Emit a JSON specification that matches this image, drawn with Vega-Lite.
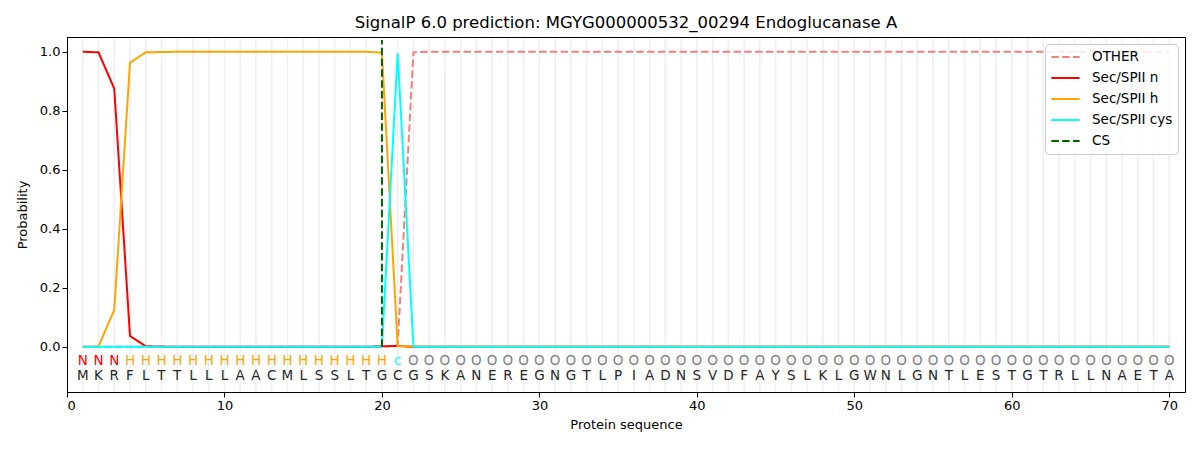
{
  "$schema": "https://vega.github.io/schema/vega-lite/v6.json",
  "width": 1118,
  "height": 355,
  "autosize": {"type": "none"},
  "padding": {"left": 67, "top": 37, "right": 15, "bottom": 58},
  "title": {"text": "SignalP 6.0 prediction: MGYG000000532_00294 Endoglucanase A", "fontSize": 16.5, "fontWeight": "normal", "color": "black", "offset": 6},
  "config": {
    "font": "DejaVu Sans",
    "view": {"stroke": "black", "strokeWidth": 1},
    "axis": {"grid": false, "domainColor": "black", "tickColor": "black", "labelColor": "black", "titleColor": "black", "labelFontSize": 13, "titleFontSize": 13, "titleFontWeight": "normal", "tickSize": 5},
    "legend": {"orient": "top-right", "offset": 7, "strokeColor": "#cccccc", "fillColor": "rgba(255,255,255,0.85)", "padding": 5, "cornerRadius": 4, "symbolType": "stroke", "symbolSize": 800, "symbolStrokeWidth": 2, "labelFontSize": 13.5, "labelColor": "black", "rowPadding": 5, "labelOffset": 11, "clipHeight": 16}
  },
  "datasets": {
    "seq": [
      {"p": 1, "aa": "M", "lab": "N", "OTHER": 0, "Sec/SPII n": 1.0, "Sec/SPII h": 0.0, "Sec/SPII cys": 0},
      {"p": 2, "aa": "K", "lab": "N", "OTHER": 0, "Sec/SPII n": 0.998, "Sec/SPII h": 0.002, "Sec/SPII cys": 0},
      {"p": 3, "aa": "R", "lab": "N", "OTHER": 0, "Sec/SPII n": 0.875, "Sec/SPII h": 0.125, "Sec/SPII cys": 0},
      {"p": 4, "aa": "F", "lab": "H", "OTHER": 0, "Sec/SPII n": 0.037, "Sec/SPII h": 0.963, "Sec/SPII cys": 0},
      {"p": 5, "aa": "L", "lab": "H", "OTHER": 0, "Sec/SPII n": 0.002, "Sec/SPII h": 0.998, "Sec/SPII cys": 0},
      {"p": 6, "aa": "T", "lab": "H", "OTHER": 0, "Sec/SPII n": 0.001, "Sec/SPII h": 0.999, "Sec/SPII cys": 0},
      {"p": 7, "aa": "T", "lab": "H", "OTHER": 0, "Sec/SPII n": 0, "Sec/SPII h": 1.0, "Sec/SPII cys": 0},
      {"p": 8, "aa": "L", "lab": "H", "OTHER": 0, "Sec/SPII n": 0, "Sec/SPII h": 1.0, "Sec/SPII cys": 0},
      {"p": 9, "aa": "L", "lab": "H", "OTHER": 0, "Sec/SPII n": 0, "Sec/SPII h": 1.0, "Sec/SPII cys": 0},
      {"p": 10, "aa": "L", "lab": "H", "OTHER": 0, "Sec/SPII n": 0, "Sec/SPII h": 1.0, "Sec/SPII cys": 0},
      {"p": 11, "aa": "A", "lab": "H", "OTHER": 0, "Sec/SPII n": 0, "Sec/SPII h": 1.0, "Sec/SPII cys": 0},
      {"p": 12, "aa": "A", "lab": "H", "OTHER": 0, "Sec/SPII n": 0, "Sec/SPII h": 1.0, "Sec/SPII cys": 0},
      {"p": 13, "aa": "C", "lab": "H", "OTHER": 0, "Sec/SPII n": 0, "Sec/SPII h": 1.0, "Sec/SPII cys": 0},
      {"p": 14, "aa": "M", "lab": "H", "OTHER": 0, "Sec/SPII n": 0, "Sec/SPII h": 1.0, "Sec/SPII cys": 0},
      {"p": 15, "aa": "L", "lab": "H", "OTHER": 0, "Sec/SPII n": 0, "Sec/SPII h": 1.0, "Sec/SPII cys": 0},
      {"p": 16, "aa": "S", "lab": "H", "OTHER": 0, "Sec/SPII n": 0, "Sec/SPII h": 1.0, "Sec/SPII cys": 0},
      {"p": 17, "aa": "S", "lab": "H", "OTHER": 0, "Sec/SPII n": 0, "Sec/SPII h": 1.0, "Sec/SPII cys": 0},
      {"p": 18, "aa": "L", "lab": "H", "OTHER": 0, "Sec/SPII n": 0, "Sec/SPII h": 1.0, "Sec/SPII cys": 0},
      {"p": 19, "aa": "T", "lab": "H", "OTHER": 0, "Sec/SPII n": 0, "Sec/SPII h": 1.0, "Sec/SPII cys": 0},
      {"p": 20, "aa": "G", "lab": "H", "OTHER": 0, "Sec/SPII n": 0.002, "Sec/SPII h": 0.997, "Sec/SPII cys": 0.001},
      {"p": 21, "aa": "C", "lab": "c", "OTHER": 0.004, "Sec/SPII n": 0.003, "Sec/SPII h": 0.002, "Sec/SPII cys": 0.995},
      {"p": 22, "aa": "G", "lab": "O", "OTHER": 0.998, "Sec/SPII n": 0, "Sec/SPII h": 0.002, "Sec/SPII cys": 0.001},
      {"p": 23, "aa": "S", "lab": "O", "OTHER": 1, "Sec/SPII n": 0, "Sec/SPII h": 0, "Sec/SPII cys": 0},
      {"p": 24, "aa": "K", "lab": "O", "OTHER": 1, "Sec/SPII n": 0, "Sec/SPII h": 0, "Sec/SPII cys": 0},
      {"p": 25, "aa": "A", "lab": "O", "OTHER": 1, "Sec/SPII n": 0, "Sec/SPII h": 0, "Sec/SPII cys": 0},
      {"p": 26, "aa": "N", "lab": "O", "OTHER": 1, "Sec/SPII n": 0, "Sec/SPII h": 0, "Sec/SPII cys": 0},
      {"p": 27, "aa": "E", "lab": "O", "OTHER": 1, "Sec/SPII n": 0, "Sec/SPII h": 0, "Sec/SPII cys": 0},
      {"p": 28, "aa": "R", "lab": "O", "OTHER": 1, "Sec/SPII n": 0, "Sec/SPII h": 0, "Sec/SPII cys": 0},
      {"p": 29, "aa": "E", "lab": "O", "OTHER": 1, "Sec/SPII n": 0, "Sec/SPII h": 0, "Sec/SPII cys": 0},
      {"p": 30, "aa": "G", "lab": "O", "OTHER": 1, "Sec/SPII n": 0, "Sec/SPII h": 0, "Sec/SPII cys": 0},
      {"p": 31, "aa": "N", "lab": "O", "OTHER": 1, "Sec/SPII n": 0, "Sec/SPII h": 0, "Sec/SPII cys": 0},
      {"p": 32, "aa": "G", "lab": "O", "OTHER": 1, "Sec/SPII n": 0, "Sec/SPII h": 0, "Sec/SPII cys": 0},
      {"p": 33, "aa": "T", "lab": "O", "OTHER": 1, "Sec/SPII n": 0, "Sec/SPII h": 0, "Sec/SPII cys": 0},
      {"p": 34, "aa": "L", "lab": "O", "OTHER": 1, "Sec/SPII n": 0, "Sec/SPII h": 0, "Sec/SPII cys": 0},
      {"p": 35, "aa": "P", "lab": "O", "OTHER": 1, "Sec/SPII n": 0, "Sec/SPII h": 0, "Sec/SPII cys": 0},
      {"p": 36, "aa": "I", "lab": "O", "OTHER": 1, "Sec/SPII n": 0, "Sec/SPII h": 0, "Sec/SPII cys": 0},
      {"p": 37, "aa": "A", "lab": "O", "OTHER": 1, "Sec/SPII n": 0, "Sec/SPII h": 0, "Sec/SPII cys": 0},
      {"p": 38, "aa": "D", "lab": "O", "OTHER": 1, "Sec/SPII n": 0, "Sec/SPII h": 0, "Sec/SPII cys": 0},
      {"p": 39, "aa": "N", "lab": "O", "OTHER": 1, "Sec/SPII n": 0, "Sec/SPII h": 0, "Sec/SPII cys": 0},
      {"p": 40, "aa": "S", "lab": "O", "OTHER": 1, "Sec/SPII n": 0, "Sec/SPII h": 0, "Sec/SPII cys": 0},
      {"p": 41, "aa": "V", "lab": "O", "OTHER": 1, "Sec/SPII n": 0, "Sec/SPII h": 0, "Sec/SPII cys": 0},
      {"p": 42, "aa": "D", "lab": "O", "OTHER": 1, "Sec/SPII n": 0, "Sec/SPII h": 0, "Sec/SPII cys": 0},
      {"p": 43, "aa": "F", "lab": "O", "OTHER": 1, "Sec/SPII n": 0, "Sec/SPII h": 0, "Sec/SPII cys": 0},
      {"p": 44, "aa": "A", "lab": "O", "OTHER": 1, "Sec/SPII n": 0, "Sec/SPII h": 0, "Sec/SPII cys": 0},
      {"p": 45, "aa": "Y", "lab": "O", "OTHER": 1, "Sec/SPII n": 0, "Sec/SPII h": 0, "Sec/SPII cys": 0},
      {"p": 46, "aa": "S", "lab": "O", "OTHER": 1, "Sec/SPII n": 0, "Sec/SPII h": 0, "Sec/SPII cys": 0},
      {"p": 47, "aa": "L", "lab": "O", "OTHER": 1, "Sec/SPII n": 0, "Sec/SPII h": 0, "Sec/SPII cys": 0},
      {"p": 48, "aa": "K", "lab": "O", "OTHER": 1, "Sec/SPII n": 0, "Sec/SPII h": 0, "Sec/SPII cys": 0},
      {"p": 49, "aa": "L", "lab": "O", "OTHER": 1, "Sec/SPII n": 0, "Sec/SPII h": 0, "Sec/SPII cys": 0},
      {"p": 50, "aa": "G", "lab": "O", "OTHER": 1, "Sec/SPII n": 0, "Sec/SPII h": 0, "Sec/SPII cys": 0},
      {"p": 51, "aa": "W", "lab": "O", "OTHER": 1, "Sec/SPII n": 0, "Sec/SPII h": 0, "Sec/SPII cys": 0},
      {"p": 52, "aa": "N", "lab": "O", "OTHER": 1, "Sec/SPII n": 0, "Sec/SPII h": 0, "Sec/SPII cys": 0},
      {"p": 53, "aa": "L", "lab": "O", "OTHER": 1, "Sec/SPII n": 0, "Sec/SPII h": 0, "Sec/SPII cys": 0},
      {"p": 54, "aa": "G", "lab": "O", "OTHER": 1, "Sec/SPII n": 0, "Sec/SPII h": 0, "Sec/SPII cys": 0},
      {"p": 55, "aa": "N", "lab": "O", "OTHER": 1, "Sec/SPII n": 0, "Sec/SPII h": 0, "Sec/SPII cys": 0},
      {"p": 56, "aa": "T", "lab": "O", "OTHER": 1, "Sec/SPII n": 0, "Sec/SPII h": 0, "Sec/SPII cys": 0},
      {"p": 57, "aa": "L", "lab": "O", "OTHER": 1, "Sec/SPII n": 0, "Sec/SPII h": 0, "Sec/SPII cys": 0},
      {"p": 58, "aa": "E", "lab": "O", "OTHER": 1, "Sec/SPII n": 0, "Sec/SPII h": 0, "Sec/SPII cys": 0},
      {"p": 59, "aa": "S", "lab": "O", "OTHER": 1, "Sec/SPII n": 0, "Sec/SPII h": 0, "Sec/SPII cys": 0},
      {"p": 60, "aa": "T", "lab": "O", "OTHER": 1, "Sec/SPII n": 0, "Sec/SPII h": 0, "Sec/SPII cys": 0},
      {"p": 61, "aa": "G", "lab": "O", "OTHER": 1, "Sec/SPII n": 0, "Sec/SPII h": 0, "Sec/SPII cys": 0},
      {"p": 62, "aa": "T", "lab": "O", "OTHER": 1, "Sec/SPII n": 0, "Sec/SPII h": 0, "Sec/SPII cys": 0},
      {"p": 63, "aa": "R", "lab": "O", "OTHER": 1, "Sec/SPII n": 0, "Sec/SPII h": 0, "Sec/SPII cys": 0},
      {"p": 64, "aa": "L", "lab": "O", "OTHER": 1, "Sec/SPII n": 0, "Sec/SPII h": 0, "Sec/SPII cys": 0},
      {"p": 65, "aa": "L", "lab": "O", "OTHER": 1, "Sec/SPII n": 0, "Sec/SPII h": 0, "Sec/SPII cys": 0},
      {"p": 66, "aa": "N", "lab": "O", "OTHER": 1, "Sec/SPII n": 0, "Sec/SPII h": 0, "Sec/SPII cys": 0},
      {"p": 67, "aa": "A", "lab": "O", "OTHER": 1, "Sec/SPII n": 0, "Sec/SPII h": 0, "Sec/SPII cys": 0},
      {"p": 68, "aa": "E", "lab": "O", "OTHER": 1, "Sec/SPII n": 0, "Sec/SPII h": 0, "Sec/SPII cys": 0},
      {"p": 69, "aa": "T", "lab": "O", "OTHER": 1, "Sec/SPII n": 0, "Sec/SPII h": 0, "Sec/SPII cys": 0},
      {"p": 70, "aa": "A", "lab": "O", "OTHER": 1, "Sec/SPII n": 0, "Sec/SPII h": 0, "Sec/SPII cys": 0}
    ],
    "cs": [{"p": 20, "series": "CS", "lo": 0, "hi": 1.04}]
  },
  "data": {"name": "seq"},
  "layer": [
    {
      "mark": {"type": "rule", "color": "#eeeeee", "strokeWidth": 1.5},
      "encoding": {
        "x": {"field": "p", "type": "quantitative", "scale": {"domain": [0, 71], "nice": false, "zero": false}},
        "y": {"datum": -0.15},
        "y2": {"datum": 1.047}
      }
    },
    {
      "transform": [{"fold": ["OTHER", "Sec/SPII n", "Sec/SPII h", "Sec/SPII cys"], "as": ["series", "prob"]}],
      "mark": {"type": "line", "strokeWidth": 2},
      "encoding": {
        "x": {"field": "p", "type": "quantitative", "title": "Protein sequence", "axis": {"values": [0, 10, 20, 30, 40, 50, 60, 70], "titlePadding": 6}},
        "y": {"field": "prob", "type": "quantitative", "title": "Probability", "scale": {"domain": [-0.153, 1.05], "nice": false, "zero": false}, "axis": {"values": [0, 0.2, 0.4, 0.6, 0.8, 1.0], "format": ".1f", "titlePadding": 10}},
        "color": {"field": "series", "type": "nominal", "scale": {"domain": ["OTHER", "Sec/SPII n", "Sec/SPII h", "Sec/SPII cys", "CS"], "range": ["#f08080", "#ff0000", "#ffa500", "#00ffff", "#006400"]}, "legend": {"title": null}},
        "strokeDash": {"field": "series", "type": "nominal", "scale": {"domain": ["OTHER", "Sec/SPII n", "Sec/SPII h", "Sec/SPII cys", "CS"], "range": [[7.5, 3.3], [1, 0], [1, 0], [1, 0], [7.5, 3.3]]}, "legend": {"title": null}},
        "order": {"field": "p", "type": "quantitative"}
      }
    },
    {
      "data": {"name": "cs"},
      "mark": {"type": "rule", "strokeWidth": 2},
      "encoding": {
        "x": {"field": "p", "type": "quantitative"},
        "y": {"field": "lo", "type": "quantitative"},
        "y2": {"field": "hi"},
        "color": {"field": "series", "type": "nominal"},
        "strokeDash": {"field": "series", "type": "nominal"}
      }
    },
    {
      "mark": {"type": "text", "fontSize": 13.5, "baseline": "middle", "align": "center"},
      "encoding": {
        "x": {"field": "p", "type": "quantitative"},
        "y": {"datum": -0.048},
        "text": {"field": "lab"},
        "color": {"condition": [{"test": "datum.lab === 'N'", "value": "#ff0000"}, {"test": "datum.lab === 'H'", "value": "#ffa500"}, {"test": "datum.lab === 'c'", "value": "#00ffff"}], "value": "#808080"}
      }
    },
    {
      "mark": {"type": "text", "fontSize": 13.5, "baseline": "middle", "align": "center", "color": "#262626"},
      "encoding": {
        "x": {"field": "p", "type": "quantitative"},
        "y": {"datum": -0.098},
        "text": {"field": "aa"}
      }
    }
  ]
}
